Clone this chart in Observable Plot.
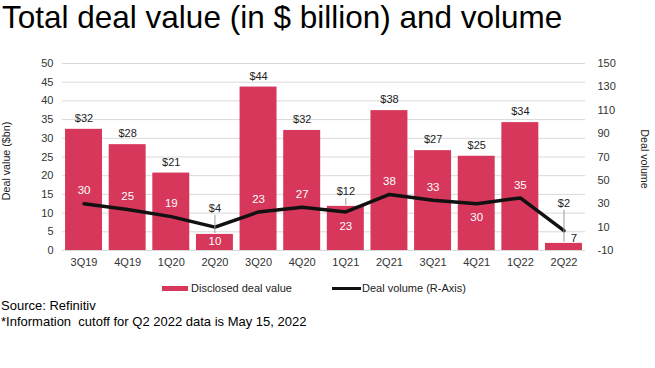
<!DOCTYPE html>
<html>
<head>
<meta charset="utf-8">
<script src="https://cdn.jsdelivr.net/npm/d3@7"></script>
<script src="https://cdn.jsdelivr.net/npm/@observablehq/plot@0.6"></script>
<style>
  html, body { margin: 0; padding: 0; background: #fff; }
  body { width: 655px; height: 368px; position: relative; overflow: hidden; font-family: "Liberation Sans", Arial, sans-serif; }
  #title { position: absolute; left: 2px; top: -1px; font-size: 31.5px; color: #000; white-space: nowrap; }
  #chart { position: absolute; left: 0; top: 50px; }
  .ytitle { position: absolute; font-size: 10.7px; color: #222; white-space: nowrap; }
  #ylab { left: 6px; top: 161px; transform: translate(-50%, -50%) rotate(-90deg); }
  #yrlab { left: 645px; top: 159px; transform: translate(-50%, -50%) rotate(90deg); }
  #legend { position: absolute; top: 282px; left: 0; font-size: 11px; color: #222; white-space: nowrap; }
  .sw { position: absolute; }
  .lt { position: absolute; top: 0; }
  .cap { position: absolute; left: 1px; font-size: 13px; color: #000; white-space: pre; }
</style>
</head>
<body>
<div id="title">Total deal value (in $ billion) and volume</div>
<div id="chart"></div>
<div class="ytitle" id="ylab">Deal value ($bn)</div>
<div class="ytitle" id="yrlab">Deal volume</div>
<div id="legend">
  <div class="sw" style="left:162px; top:4px; width:26px; height:5px; background:#d6375a;"></div>
  <div class="lt" style="left:191px;">Disclosed deal value</div>
  <div class="sw" style="left:332px; top:5px; width:29px; height:3px; background:#111;"></div>
  <div class="lt" style="left:362px;">Deal volume (R-Axis)</div>
</div>
<div class="cap" style="top:298px;">Source: Refinitiv</div>
<div class="cap" style="top:314px;">*Information  cutoff for Q2 2022 data is May 15, 2022</div>
<script>
const quarters = ["3Q19","4Q19","1Q20","2Q20","3Q20","4Q20","1Q21","2Q21","3Q21","4Q21","1Q22","2Q22"];
const dealValue = [32.4, 28.3, 20.7, 4.3, 43.7, 32.1, 11.8, 37.4, 26.7, 25.2, 34.2, 1.9];
const valueLabels = ["$32","$28","$21","$4","$44","$32","$12","$38","$27","$25","$34","$2"];
const dealVolume = [30, 25, 19, 10, 23, 27, 23, 38, 33, 30, 35, 7];
const leftTicks = [0, 5, 10, 15, 20, 25, 30, 35, 40, 45, 50];
const rightTicks = [-10, 10, 30, 50, 70, 90, 110, 130, 150];

const leftMax = 50, rightMin = -10, rightMax = 150;
const toLeft = v => (v - rightMin) * leftMax / (rightMax - rightMin);
const fromLeft = y => y * (rightMax - rightMin) / leftMax + rightMin;

const data = quarters.map((q, i) => ({
  q, value: dealValue[i], label: valueLabels[i], vol: dealVolume[i], volY: toLeft(dealVolume[i])
}));

// label placement config
const lifted = {"2Q20": 26, "1Q21": 15, "2Q22": 40};
const volBelow = new Set(["2Q20", "1Q21", "4Q21"]);

const W = 655, mTop = 13, mBottom = 30, mLeft = 62, mRight = 70;
const H = 230;
const ppu = (H - mTop - mBottom) / leftMax;
const fs = 11;

const red = "#d6375a";
const marks = [
  Plot.gridY(leftTicks, {stroke: "#d9d9d9", strokeOpacity: 1, strokeWidth: 1}),
  Plot.barY(data, {x: "q", y: "value", fill: red}),
  Plot.line(data, {x: "q", y: "volY", stroke: "#111", strokeWidth: 3.5, strokeLinejoin: "round"}),
  Plot.text(data.filter(d => !(d.q in lifted)), {x: "q", y: "value", text: "label", dy: -11, fill: "#222", fontSize: fs}),
];
for (const [q, lift] of Object.entries(lifted)) {
  const sub = data.filter(d => d.q === q);
  marks.push(Plot.ruleX(sub, {x: "q", y1: d => d.value + 1 / ppu, y2: d => d.value + (lift - 7) / ppu, stroke: "#9a9a9a", strokeWidth: 1}));
  marks.push(Plot.text(sub, {x: "q", y: "value", text: "label", dy: -lift, fill: "#222", fontSize: fs}));
}
marks.push(
  Plot.text(data.filter(d => !volBelow.has(d.q) && d.q !== "2Q22"), {x: "q", y: "volY", text: d => String(d.vol), dy: -13, fill: "#fff", fontSize: 11.5}),
  Plot.text(data.filter(d => volBelow.has(d.q)), {x: "q", y: "volY", text: d => String(d.vol), dy: 14, fill: "#fff", fontSize: 11.5}),
  Plot.text(data.filter(d => d.q === "2Q22"), {x: "q", y: "volY", text: d => String(d.vol), dx: 10, dy: 8, fill: "#222", fontSize: 11.5}),
  Plot.axisY(leftTicks, {anchor: "left", tickSize: 0, tickPadding: 9, fontSize: fs, color: "#333", label: null}),
  Plot.axisY(rightTicks.map(toLeft), {anchor: "right", tickSize: 0, tickPadding: 12, fontSize: fs, color: "#333", label: null, tickFormat: d => String(Math.round(fromLeft(d))), textAnchor: "start"}),
  Plot.axisX({tickSize: 0, tickPadding: 8, fontSize: fs, color: "#333", label: null})
);

const chart = Plot.plot({
  width: W, height: H,
  marginTop: mTop, marginBottom: mBottom, marginLeft: mLeft, marginRight: mRight,
  style: {fontFamily: "Liberation Sans, Arial, sans-serif", background: "#fff", color: "#333"},
  x: {domain: quarters, paddingInner: 0.153, paddingOuter: 0.07, round: false, label: null},
  y: {domain: [0, leftMax], label: null},
  marks
});
document.getElementById("chart").appendChild(chart);
</script>
</body>
</html>
